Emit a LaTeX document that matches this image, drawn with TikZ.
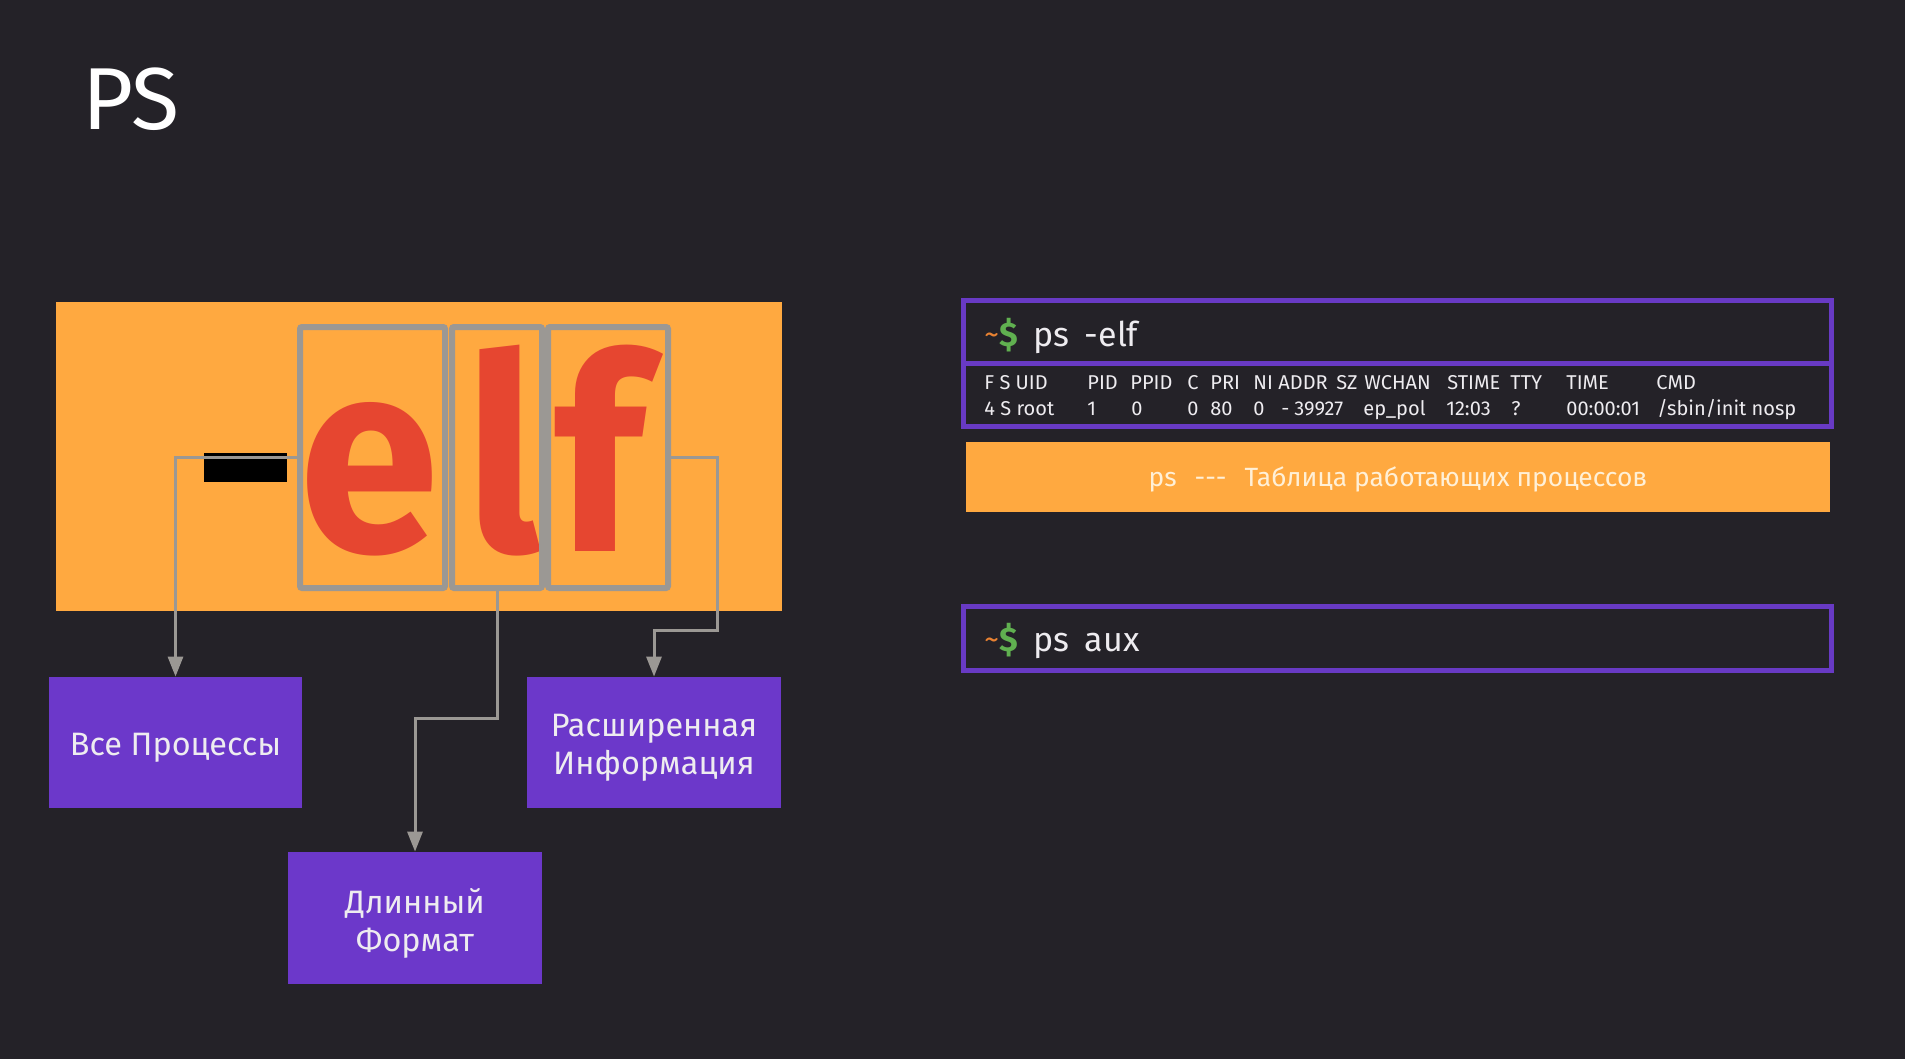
\documentclass[tikz,border=0pt]{standalone}
\usepackage{fontspec}
\setmainfont{Fira Sans}
\usetikzlibrary{arrows.meta}
\definecolor{bg}{RGB}{36,34,40}
\definecolor{orng}{RGB}{255,169,64}
\definecolor{purp}{RGB}{108,56,202}
\definecolor{termp}{RGB}{104,58,196}
\definecolor{redl}{RGB}{230,70,48}
\definecolor{greyl}{RGB}{155,152,148}
\definecolor{txt}{RGB}{238,236,240}
\definecolor{tildec}{RGB}{232,130,50}
\definecolor{dollarc}{RGB}{96,176,80}
\definecolor{bartxt}{RGB}{255,240,215}
\begin{document}
\begin{tikzpicture}[x=0.5pt,y=-0.5pt,
  letterbox/.style={draw=greyl,line width=3pt,minimum height=130.5pt,inner sep=0,rounded corners=1pt},
  infobox/.style={fill=purp,minimum width=127pt,minimum height=65.5pt,inner sep=0},
  boxlabel/.style={text=txt,align=center,font=\fontsize{16.2}{19}\selectfont,inner sep=0},
  conn/.style={draw=greyl,line width=1.5pt,-{Triangle[length=10pt,width=7.5pt]}},
  bigletter/.style={text=redl,font=\fontsize{136}{136}\bfseries\selectfont,anchor=base,inner sep=0,xscale=0.93},
  termbox/.style={draw=termp,line width=2.5pt,minimum width=434pt,inner sep=0},
  cmdtext/.style={anchor=base west,inner sep=0,text=txt,font=\fontsize{17}{17}\selectfont},
  tabtext/.style={anchor=base west,inner sep=0,text=txt,font=\fontsize{10}{10}\selectfont}]
% background
\fill[bg] (0,0) rectangle (1905,1059);
\useasboundingbox (0,0) rectangle (1905,1059);
% title
\node[anchor=base west,inner sep=0,text=white,font=\fontsize{44}{44}\selectfont] (title) at (82,130) {PS};
% orange panel
\node[fill=orng,minimum width=363pt,minimum height=154.5pt,inner sep=0] (panel) at (419,456.5) {};
\node[fill=black,minimum width=41.5pt,minimum height=14.5pt,inner sep=0] (dash) at (245.5,467.5) {};
\node[bigletter] (le) at (369,551) {e};
\node[bigletter] (ll) at (503,551) {l};
\node[bigletter] (lf) at (600,551) {f};
\node[letterbox,minimum width=72.5pt] (ebox) at (372.5,457.5) {};
\node[letterbox,minimum width=45pt] (lbox) at (497,457.5) {};
\node[letterbox,minimum width=60pt] (fbox) at (608,457.5) {};
% info boxes
\node[infobox,minimum width=126.5pt] (all) at (175.5,742.5) {};
\node[infobox] (ext) at (654,742.5) {};
\node[infobox,minimum height=66pt] (long) at (415,918) {};
\node[boxlabel] (allt) at ([yshift=-2.5pt]all.center) {Все Процессы};
\node[boxlabel] (extt) at ([yshift=-2.5pt]ext.center) {Расширенная\\Информация};
\node[boxlabel] (longt) at ([yshift=-2.5pt]long.center) {Длинный\\Формат};
% connectors
\coordinate (mbend) at (497,718);
\coordinate (rbend) at (717,630);
\draw[conn] (ebox.west) -| (all.north);
\draw[conn] (lbox.south) -- (lbox.south |- mbend) -| (long.north);
\draw[conn] (fbox.east) -| (rbend) -| (ext.north);
% terminal 1
\node[termbox,minimum height=63pt] (term1) at (1397,363) {};
\draw[termp,line width=2.5pt] (term1.west) -- (term1.east);
\node[cmdtext] (cmd1) at (984,346) {\textcolor{tildec}{\fontsize{15}{15}\selectfont\raisebox{1pt}{\textasciitilde}}\textcolor{dollarc}{\bfseries\$}\hspace{8pt}ps\hspace{7.5pt}-elf};
\foreach \x/\t [count=\i] in {984/{F S UID},1087/PID,1130/PPID,1187/C,1210/PRI,1253/NI,1278/ADDR,1336/SZ,1364/WCHAN,1447/STIME,1510/TTY,1566/TIME,1656/CMD}
  \node[tabtext] (h\i) at (\x,389) {\t};
\foreach \x/\t [count=\i] in {984/{4 S root},1087/1,1131/0,1187/0,1210/80,1253/0,1281/-,1294/39927,1363/ep\_pol,1446/12:03,1511/?,1566/00:00:01,1657/{/sbin/init nosp}}
  \node[tabtext] (r\i) at (\x,415) {\t};
% orange bar
\node[fill=orng,minimum width=432pt,minimum height=35pt,inner sep=0] (bar) at (1398,477) {};
\node[inner sep=0,text=bartxt,font=\fontsize{13.2}{13.2}\selectfont] (bart) at ([yshift=-1pt]bar.center) {ps\hspace{9pt}-{}-{}-\hspace{9pt}Таблица работающих процессов};
% terminal 2
\node[termbox,minimum height=32pt] (term2) at (1397,638) {};
\node[cmdtext] (cmd2) at (984,651) {\textcolor{tildec}{\fontsize{15}{15}\selectfont\raisebox{1pt}{\textasciitilde}}\textcolor{dollarc}{\bfseries\$}\hspace{8pt}ps\hspace{7.5pt}aux};
\end{tikzpicture}
\end{document}
